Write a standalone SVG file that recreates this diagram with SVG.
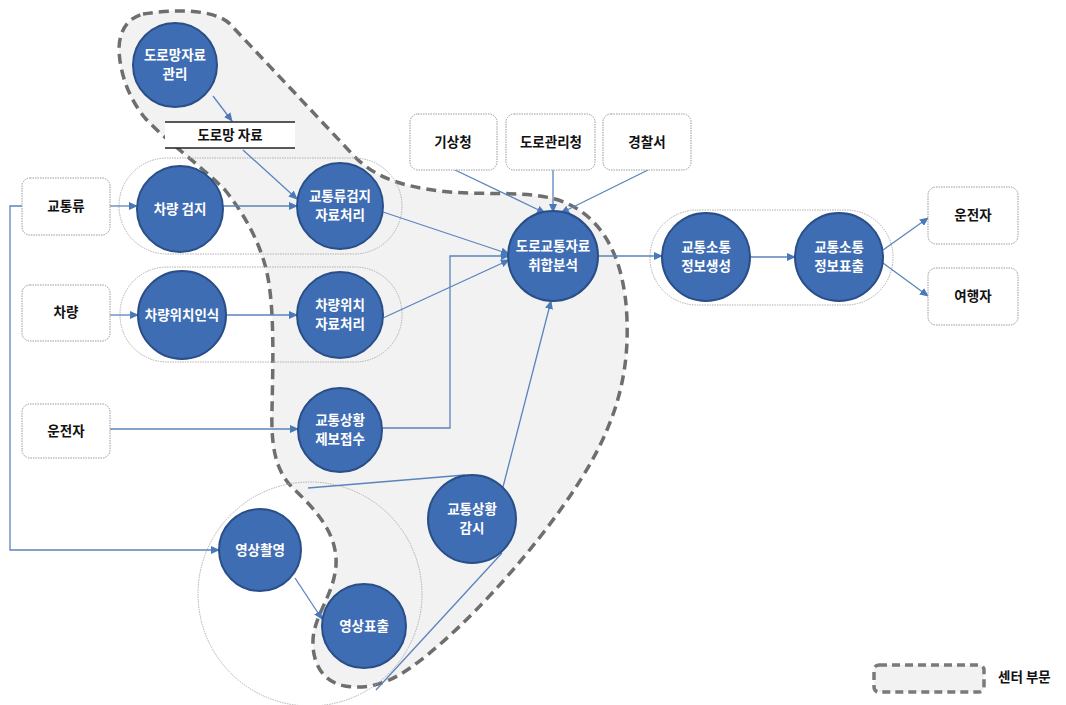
<svg xmlns="http://www.w3.org/2000/svg" width="1066" height="705" viewBox="0 0 1066 705">
<defs>
<marker id="ah" markerUnits="userSpaceOnUse" markerWidth="9" markerHeight="8" refX="8" refY="4" orient="auto">
<path d="M0,0 L9,4 L0,8 Z" fill="#4a78b8"/>
</marker>
<style>
.ci{fill:#3f6db3;stroke:#2a4e88;stroke-width:2}
.ct{fill:#fff;font-family:"Noto Sans CJK KR","Noto Sans",sans-serif;font-size:13.5px;font-weight:600;text-anchor:middle}
.bx{fill:#fff;stroke:#9a9a9a;stroke-width:1;stroke-dasharray:1.5 1}
.bt{fill:#111;font-family:"Noto Sans CJK KR","Noto Sans",sans-serif;font-size:13.5px;font-weight:700;text-anchor:middle}
.cap{fill:none;stroke:#b0b0b0;stroke-width:1;stroke-dasharray:1.5 1}
.ln{fill:none;stroke:#5a84bd;stroke-width:1.3}
.arr{fill:none;stroke:#5a84bd;stroke-width:1.3;marker-end:url(#ah)}
.reg{fill:#f2f2f2;stroke:#6e6e6e;stroke-width:3.5;stroke-dasharray:10 6}
</style>
</defs>
<rect width="1066" height="705" fill="#fff"/>
<g id="center-region">
<path class="reg" d="M 143,14 C 175,9 215,9 230,24 L 355,157 C 375,177 400,186 440,191 C 480,196 520,190 555,199 C 600,212 625,255 627,320 C 630,400 600,460 540,537 C 500,588 450,640 410,668 C 390,682 370,690 345,686 C 322,682 312,662 313,640 C 314,615 334,595 336,565 C 338,530 310,505 290,485 C 275,468 271,445 272,410 C 273,360 275,300 265,265 C 258,240 245,215 225,190 C 200,165 165,140 145,118 C 130,100 120,75 119,50 C 119,30 128,18 143,14 Z"/>
</g>
<g id="groupings">
<rect class="cap" x="119" y="158" width="283" height="96" rx="48"/>
<rect class="cap" x="120" y="267" width="282" height="95" rx="47"/>
<rect class="cap" x="650" y="210" width="243" height="95" rx="47"/>
<circle class="cap" cx="310" cy="594" r="112"/>
</g>
<g id="connectors">
<line class="arr" x1="213" y1="96" x2="232" y2="121"/>
<line class="arr" x1="243" y1="150" x2="297" y2="199"/>
<line class="arr" x1="110" y1="206" x2="137" y2="206"/>
<line class="arr" x1="223" y1="206" x2="297" y2="206"/>
<line class="arr" x1="383" y1="212" x2="509" y2="254"/>
<line class="arr" x1="110" y1="315" x2="138" y2="315"/>
<line class="arr" x1="227" y1="315" x2="297" y2="315"/>
<line class="arr" x1="383" y1="318" x2="509" y2="260"/>
<line class="arr" x1="110" y1="429" x2="298" y2="429"/>
<polyline class="arr" points="382,428 450,428 450,256 509,256"/>
<polyline class="arr" points="22,206 10,206 10,550 219,550"/>
<line class="arr" x1="295" y1="578" x2="322" y2="619"/>
<line class="ln" x1="308" y1="488" x2="465" y2="475"/>
<line class="ln" x1="502" y1="553" x2="376" y2="690"/>
<line class="arr" x1="503" y1="487" x2="551" y2="301"/>
<line class="arr" x1="455" y1="170" x2="545" y2="213"/>
<line class="arr" x1="553" y1="170" x2="553" y2="212"/>
<line class="arr" x1="648" y1="170" x2="561" y2="213"/>
<line class="arr" x1="597" y1="256" x2="662" y2="256"/>
<line class="arr" x1="750" y1="257" x2="795" y2="257"/>
<line class="arr" x1="883" y1="250" x2="928" y2="218"/>
<line class="arr" x1="883" y1="263" x2="928" y2="296"/>
</g>
<g id="datastore">
<rect x="165" y="122" width="130" height="26" fill="#fff"/>
<line x1="165" y1="122" x2="295" y2="122" stroke="#222" stroke-width="1.3"/>
<line x1="165" y1="148" x2="295" y2="148" stroke="#222" stroke-width="1.3"/>
<text class="bt" x="230" y="140">도로망 자료</text>
</g>
<g id="n-road-mgmt"><circle class="ci" cx="175" cy="65" r="42"/><text class="ct" x="175" y="60">도로망자료</text><text class="ct" x="175" y="79">관리</text></g>
<g id="n-detect"><circle class="ci" cx="180" cy="209" r="43"/><text class="ct" x="180" y="214">차량 검지</text></g>
<g id="n-flow-proc"><circle class="ci" cx="340" cy="206" r="43"/><text class="ct" x="340" y="201">교통류검지</text><text class="ct" x="340" y="220">자료처리</text></g>
<g id="n-pos-recog"><circle class="ci" cx="182" cy="315" r="44"/><text class="ct" x="182" y="320">차량위치인식</text></g>
<g id="n-pos-proc"><circle class="ci" cx="340" cy="315" r="43"/><text class="ct" x="340" y="310">차량위치</text><text class="ct" x="340" y="329">자료처리</text></g>
<g id="n-report"><circle class="ci" cx="340" cy="430" r="42"/><text class="ct" x="340" y="425">교통상황</text><text class="ct" x="340" y="444">제보접수</text></g>
<g id="n-analysis"><circle class="ci" cx="553" cy="256" r="45"/><text class="ct" x="553" y="251">도로교통자료</text><text class="ct" x="553" y="270">취합분석</text></g>
<g id="n-gen"><circle class="ci" cx="706" cy="257" r="44"/><text class="ct" x="706" y="252">교통소통</text><text class="ct" x="706" y="271">정보생성</text></g>
<g id="n-disp"><circle class="ci" cx="839" cy="257" r="44"/><text class="ct" x="839" y="252">교통소통</text><text class="ct" x="839" y="271">정보표출</text></g>
<g id="n-monitor"><circle class="ci" cx="472" cy="519" r="44"/><text class="ct" x="472" y="514">교통상황</text><text class="ct" x="472" y="533">감시</text></g>
<g id="n-capture"><circle class="ci" cx="260" cy="550" r="41"/><text class="ct" x="260" y="555">영상촬영</text></g>
<g id="n-video-disp"><circle class="ci" cx="364" cy="626" r="42"/><text class="ct" x="364" y="631">영상표출</text></g>
<g id="b-flow"><rect class="bx" x="22" y="178" width="88" height="57" rx="8"/><text class="bt" x="66" y="211">교통류</text></g>
<g id="b-vehicle"><rect class="bx" x="22" y="285" width="88" height="56" rx="8"/><text class="bt" x="66" y="317">차량</text></g>
<g id="b-driver-l"><rect class="bx" x="22" y="404" width="88" height="54" rx="8"/><text class="bt" x="66" y="436">운전자</text></g>
<g id="b-kma"><rect class="bx" x="410" y="114" width="87" height="56" rx="8"/><text class="bt" x="453" y="147">기상청</text></g>
<g id="b-road"><rect class="bx" x="506" y="114" width="89" height="56" rx="8"/><text class="bt" x="551" y="147">도로관리청</text></g>
<g id="b-police"><rect class="bx" x="603" y="114" width="88" height="56" rx="8"/><text class="bt" x="647" y="147">경찰서</text></g>
<g id="b-driver-r"><rect class="bx" x="928" y="187" width="90" height="57" rx="8"/><text class="bt" x="973" y="220">운전자</text></g>
<g id="b-traveler"><rect class="bx" x="928" y="268" width="90" height="57" rx="8"/><text class="bt" x="973" y="301">여행자</text></g>
<g id="legend">
<rect x="874" y="665" width="110" height="27" rx="5" fill="#f2f2f2" stroke="#7a7a7a" stroke-width="3.5" stroke-dasharray="8 5"/>
<text x="998" y="682" fill="#111" font-family="'Noto Sans CJK KR','Noto Sans',sans-serif" font-size="13.5" font-weight="700">센터 부문</text>
</g>
</svg>
